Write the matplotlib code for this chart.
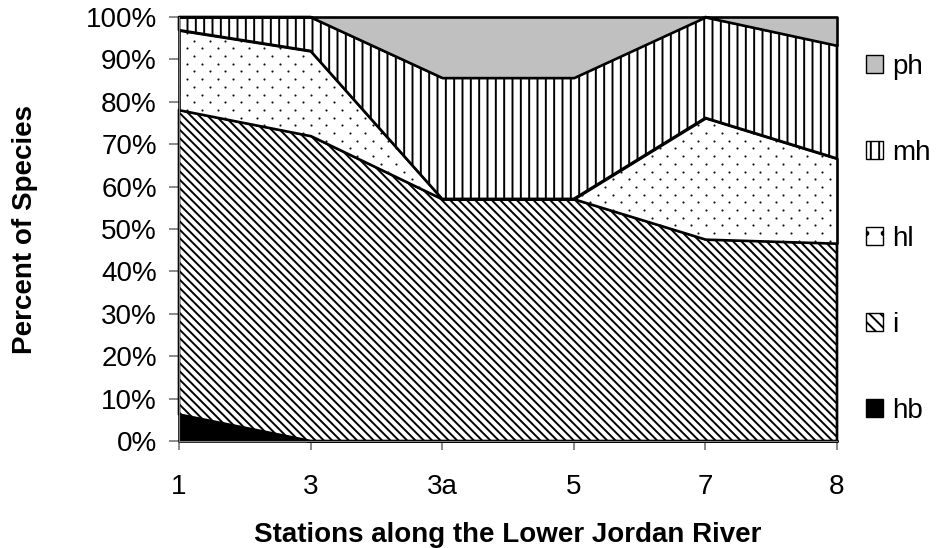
import numpy as np
import matplotlib
matplotlib.use('Agg')
import matplotlib.pyplot as plt
from matplotlib.patches import Patch

plt.rcParams['font.family'] = ['Liberation Sans', 'DejaVu Sans']
plt.rcParams['hatch.linewidth'] = 1.4

# Share of species (%) per functional group at each station
stations = ['1', '3', '3a', '5', '7', '8']
hb = [6.25, 0.0, 0.0, 0.0, 0.0, 0.0]
i_grp = [71.9, 72.0, 57.1, 57.1, 47.6, 46.7]
hl = [18.8, 20.0, 0.0, 0.0, 28.6, 20.0]
mh = [3.1, 8.0, 28.6, 28.6, 23.8, 26.7]
ph = [0.0, 0.0, 14.3, 14.3, 0.0, 6.7]

groups = ['hb', 'i', 'hl', 'mh', 'ph']
series = np.array([hb, i_grp, hl, mh, ph])
# 100% stacked: normalise each station to its total
series = series / series.sum(axis=0) * 100
tops = np.cumsum(series, axis=0)
bottoms = np.vstack([np.zeros(len(stations)), tops[:-1]])

styles = {
    'hb': dict(facecolor='black', hatch=None),
    'i': dict(facecolor='white', hatch='\\\\\\\\'),
    'hl': dict(facecolor='white', hatch=None),
    'mh': dict(facecolor='white', hatch='||'),
    'ph': dict(facecolor='#c0c0c0', hatch=None),
}

FS = 20

fig = plt.figure(figsize=(9.37, 5.48), dpi=100)
ax = fig.add_axes([179 / 937, 1 - 441 / 548, 658 / 937, 424 / 548])

x = np.arange(len(stations))
polys = {}
for k, g in enumerate(groups):
    st = styles[g]
    polys[g] = ax.fill_between(x, bottoms[k], tops[k], facecolor=st['facecolor'],
                               hatch=st['hatch'], edgecolor='black',
                               linewidth=1.9, clip_on=False, zorder=2 + k * 0.1)

# dotted texture for hl, clipped to its band
dx = 15.5 / 131.6
dy = 7.7 / 4.24
gx, gy = [], []
for r, yy in enumerate(np.arange(0, 100 + dy, dy)):
    xs = np.arange(-dx, len(stations) + dx, dx) + (dx / 2 if r % 2 else 0)
    gx.extend(xs)
    gy.extend([yy] * len(xs))
dots = ax.scatter(gx, gy, s=2.4, color='#111111', linewidths=0, zorder=2.25)
dots.set_clip_path(polys['hl'].get_paths()[0], ax.transData)

ax.set_xlim(0, len(stations) - 1)
ax.set_ylim(0, 100)
ax.set_xticks(x)
ax.set_xticklabels(stations)
ax.set_yticks(np.arange(0, 101, 10))
ax.set_yticklabels([f'{v}%' for v in range(0, 101, 10)])
ax.tick_params(axis='both', labelsize=FS, colors='#808080', labelcolor='black', width=1.3)
ax.tick_params(axis='y', direction='out', length=7.5, pad=8.5)
ax.tick_params(axis='x', direction='out', length=6.5, pad=17)
for s in ['top', 'right']:
    ax.spines[s].set_visible(False)
for s in ['left', 'bottom']:
    ax.spines[s].set_color('#808080')

ax.set_xlabel('Stations along the Lower Jordan River', fontsize=FS, fontweight='bold', labelpad=16)
ax.set_ylabel('Percent of Species', fontsize=FS, fontweight='bold')
ax.yaxis.set_label_coords(-0.214, 0.5)

handles = []
for g in reversed(groups):
    st = styles[g]
    h = st['hatch']
    if g == 'hl':
        h = '.'
    if g == 'i':
        h = '\\\\\\'
    handles.append(Patch(facecolor=st['facecolor'], edgecolor='black', hatch=h,
                         linewidth=1.0, label=g))
fig.legend(handles=handles, loc='center left', bbox_to_anchor=(866 / 937, 1 - 238.5 / 548),
           frameon=False, fontsize=FS, handlelength=0.6, handleheight=0.6,
           handletextpad=0.35, labelspacing=2.16, borderpad=0, borderaxespad=0)

fig.savefig('out.png', dpi=100)
